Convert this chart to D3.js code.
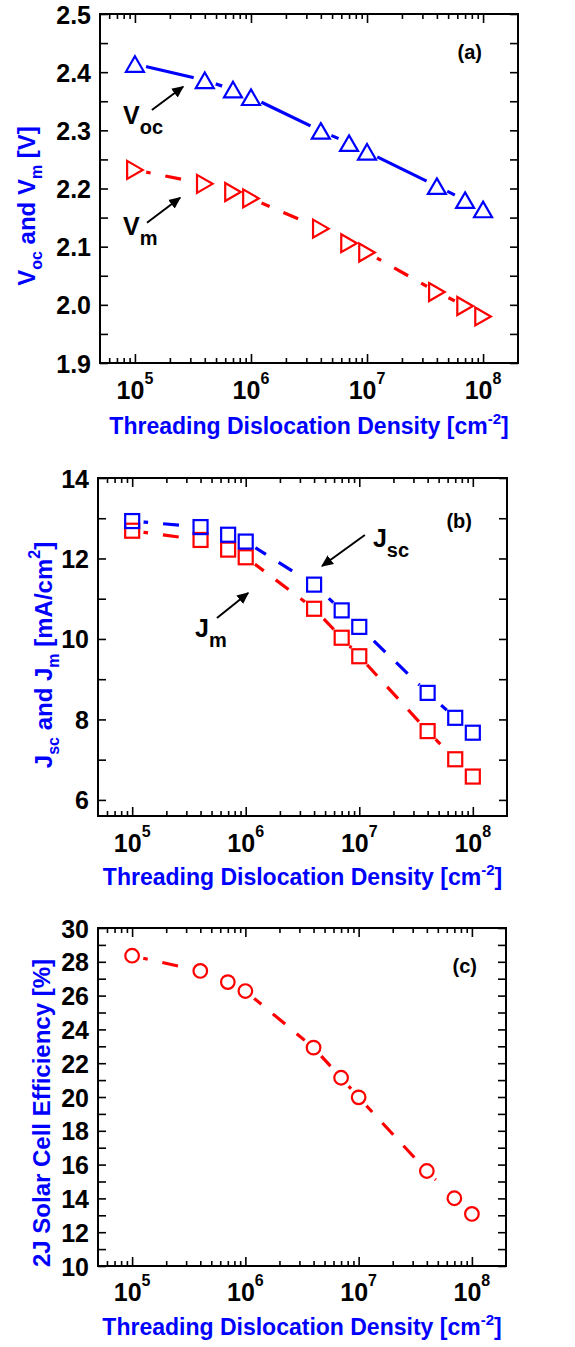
<!DOCTYPE html>
<html>
<head>
<meta charset="utf-8">
<script src="https://cdn.jsdelivr.net/npm/d3@7"></script>
<style>
  body { margin: 0; background: #fff; }
  text { font-family: "Liberation Sans", Arial, sans-serif; font-weight: bold; }
</style>
</head>
<body>
<div id="chart"></div>
<script>
// threading dislocation density (cm^-2)
var tdd = [1e5, 4e5, 7e5, 1e6, 4e6, 7e6, 1e7, 4e7, 7e7, 1e8];

// panel (a) voltages [V]
var voc = [2.414, 2.386, 2.370, 2.357, 2.299, 2.278, 2.263, 2.204, 2.180, 2.164];
var vm  = [2.232, 2.208, 2.194, 2.183, 2.131, 2.106, 2.090, 2.022, 1.998, 1.980];

// panel (b) currents [mA/cm2]
var jsc = [12.93, 12.78, 12.59, 12.42, 11.35, 10.71, 10.30, 8.66, 8.04, 7.67];
var jm  = [12.69, 12.46, 12.22, 12.03, 10.75, 10.03, 9.57, 7.71, 7.01, 6.58];

// panel (c) efficiency [%]
var eff = [28.36, 27.46, 26.80, 26.27, 22.92, 21.14, 19.98, 15.62, 14.01, 13.08];

var xDecades = [1e5, 1e6, 1e7, 1e8];
var yTicksA = d3.range(1.9, 2.5001, 0.05), yLabelsA = [1.9, 2.0, 2.1, 2.2, 2.3, 2.4, 2.5];
var yTicksB = d3.range(6, 14.001, 1),      yLabelsB = [6, 8, 10, 12, 14];
var yTicksC = d3.range(10, 30.001, 1),     yLabelsC = [10, 12, 14, 16, 18, 20, 22, 24, 26, 28, 30];

var BLUE = "#0000ff", RED = "#ff0000";

var svg = d3.select("#chart").append("svg")
    .attr("width", 575)
    .attr("height", 1347);

var defs = svg.append("defs");
defs.append("marker")
    .attr("id", "arrowhead")
    .attr("viewBox", "0 0 10 10")
    .attr("refX", 9).attr("refY", 5)
    .attr("markerWidth", 6).attr("markerHeight", 6)
    .attr("markerUnits", "strokeWidth")
    .attr("orient", "auto")
    .append("path")
    .attr("d", "M0,0.5 L10,5 L0,9.5 Z")
    .attr("fill", "#000");

// marker shapes
var shapes = {
    up: function(g, c) {
        g.append("path").attr("d", "M0,-7.8 L9,7.8 L-9,7.8 Z")
            .attr("fill", "none").attr("stroke", c).attr("stroke-width", 2.2);
    },
    right: function(g, c) {
        g.append("path").attr("d", "M-7.8,-9 L7.8,0 L-7.8,9 Z")
            .attr("fill", "none").attr("stroke", c).attr("stroke-width", 2.2);
    },
    square: function(g, c) {
        g.append("rect").attr("x", -7).attr("y", -7).attr("width", 14).attr("height", 14)
            .attr("fill", "none").attr("stroke", c).attr("stroke-width", 2.2);
    },
    circle: function(g, c) {
        g.append("circle").attr("r", 6.8)
            .attr("fill", "none").attr("stroke", c).attr("stroke-width", 2.2);
    }
};

var maskCount = 0;

function drawPanel(p) {
    var w = p.right - p.left, h = p.bottom - p.top;
    var g = svg.append("g").attr("transform", "translate(" + p.left + "," + p.top + ")");

    var x = d3.scaleLog().domain([5e4, 2e8]).range([0, w]);
    var y = d3.scaleLinear().domain(p.yDomain).range([h, 0]);

    var minors = [];
    for (var e = 4; e <= 8; e++) {
        for (var k = 2; k <= 9; k++) {
            var v = k * Math.pow(10, e);
            if (v > 5e4 && v < 2e8) minors.push(v);
        }
    }

    // ticks, all pointing inward
    function strip(sel) { sel.select(".domain").remove(); sel.selectAll("line").attr("stroke", "#000").attr("stroke-width", 1.6); }
    g.append("g").attr("transform", "translate(0," + h + ")")
        .call(d3.axisBottom(x).tickValues(xDecades).tickSize(-9).tickFormat("")).call(strip);
    g.append("g").attr("transform", "translate(0," + h + ")")
        .call(d3.axisBottom(x).tickValues(minors).tickSize(-5).tickFormat("")).call(strip);
    g.append("g")
        .call(d3.axisTop(x).tickValues(xDecades).tickSize(-9).tickFormat("")).call(strip);
    g.append("g")
        .call(d3.axisTop(x).tickValues(minors).tickSize(-5).tickFormat("")).call(strip);
    g.append("g")
        .call(d3.axisLeft(y).tickValues(p.yTicks).tickSize(-8).tickFormat("")).call(strip);
    g.append("g").attr("transform", "translate(" + w + ",0)")
        .call(d3.axisRight(y).tickValues(p.yTicks).tickSize(-8).tickFormat("")).call(strip);

    // y tick labels
    var yl = g.append("g")
        .call(d3.axisLeft(y).tickValues(p.yLabels).tickSize(0).tickPadding(9).tickFormat(p.yFormat));
    yl.select(".domain").remove();
    yl.selectAll("text")
        .attr("font-size", 25)
        .attr("font-family", "'Liberation Sans', Arial, sans-serif")
        .attr("font-weight", "bold")
        .attr("fill", "#000")
        .attr("dy", "0.36em");

    // x tick labels 10^n
    xDecades.forEach(function(d) {
        var t = g.append("text")
            .attr("x", x(d))
            .attr("y", h + p.xLabelDy)
            .attr("text-anchor", "middle")
            .attr("font-size", 25)
            .attr("fill", "#000");
        t.append("tspan").text("10");
        t.append("tspan").attr("font-size", 16).attr("dy", -15).text(Math.round(Math.log10(d)));
    });

    // frame
    g.append("rect")
        .attr("width", w).attr("height", h)
        .attr("fill", "none").attr("stroke", "#000").attr("stroke-width", 2);

    // series
    p.series.forEach(function(s) {
        var pts = tdd.map(function(d, i) { return [x(d), y(s.values[i])]; });
        var id = "gapmask" + (maskCount++);
        var m = defs.append("mask").attr("id", id).attr("maskUnits", "userSpaceOnUse")
            .attr("x", 0).attr("y", 0).attr("width", 575).attr("height", 1347);
        m.append("rect").attr("x", -200).attr("y", -1500).attr("width", 1200).attr("height", 3000).attr("fill", "#fff");
        m.selectAll("circle").data(pts).enter().append("circle")
            .attr("cx", function(d) { return d[0]; })
            .attr("cy", function(d) { return d[1]; })
            .attr("r", 11.5)
            .attr("fill", "#000");

        g.append("path")
            .datum(pts)
            .attr("d", d3.line())
            .attr("fill", "none")
            .attr("stroke", s.color)
            .attr("stroke-width", 3.2)
            .attr("stroke-dasharray", s.dashed ? "16,15" : null)
            .attr("mask", "url(#" + id + ")");

        pts.forEach(function(d) {
            var mg = g.append("g").attr("transform", "translate(" + d[0] + "," + d[1] + ")");
            shapes[s.shape](mg, s.color);
        });
    });

    // annotations (positions in data coordinates)
    (p.notes || []).forEach(function(n) {
        g.append("line")
            .attr("x1", x(n.tail[0])).attr("y1", y(n.tail[1]))
            .attr("x2", x(n.tip[0])).attr("y2", y(n.tip[1]))
            .attr("stroke", "#000").attr("stroke-width", 2)
            .attr("marker-end", "url(#arrowhead)");
        var t = g.append("text")
            .attr("x", x(n.at[0])).attr("y", y(n.at[1]))
            .attr("font-size", 25).attr("fill", "#000");
        t.append("tspan").text(n.main);
        t.append("tspan").attr("font-size", 20).attr("dy", 10).text(n.sub);
    });

    // panel letter
    g.append("text")
        .attr("x", w - p.letterDx).attr("y", p.letterDy)
        .attr("text-anchor", "end")
        .attr("font-size", 20)
        .attr("fill", "#000")
        .text(p.letter);

    // x title
    var xt = g.append("text")
        .attr("x", w / 2).attr("y", h + p.xTitleDy)
        .attr("text-anchor", "middle")
        .attr("font-size", 23)
        .attr("fill", BLUE);
    xt.append("tspan").text("Threading Dislocation Density [cm");
    xt.append("tspan").attr("font-size", 15).attr("dy", -10).text("-2");
    xt.append("tspan").attr("dy", 10).text("]");

    // y title
    var yt = svg.append("text")
        .attr("transform", "translate(" + p.yTitleX + "," + p.yTitleY + ") rotate(-90)")
        .attr("text-anchor", "middle")
        .attr("font-size", 24)
        .attr("fill", BLUE);
    p.yTitle(yt);
}

drawPanel({
    left: 100, right: 518, top: 14, bottom: 363,
    yDomain: [1.9, 2.5], yTicks: yTicksA, yLabels: yLabelsA, yFormat: d3.format(".1f"),
    xLabelDy: 36, xTitleDy: 71,
    letter: "(a)", letterDx: 36, letterDy: 45,
    series: [
        { values: voc, color: BLUE, shape: "up", dashed: false },
        { values: vm, color: RED, shape: "right", dashed: true }
    ],
    notes: [
        { main: "V", sub: "oc", at: [7.9e4, 2.311], tail: [1.4e5, 2.335], tip: [2.6e5, 2.375] },
        { main: "V", sub: "m", at: [7.9e4, 2.120], tail: [1.27e5, 2.141], tip: [2.45e5, 2.184] }
    ],
    yTitleX: 35, yTitleY: 206,
    yTitle: function(t) {
        t.append("tspan").text("V");
        t.append("tspan").attr("font-size", 16).attr("dy", 7).text("oc");
        t.append("tspan").attr("dy", -7).text(" and V");
        t.append("tspan").attr("font-size", 16).attr("dy", 7).text("m");
        t.append("tspan").attr("dy", -7).text(" [V]");
    }
});

drawPanel({
    left: 98, right: 507, top: 478, bottom: 816,
    yDomain: [5.6, 14], yTicks: yTicksB, yLabels: yLabelsB, yFormat: d3.format("d"),
    xLabelDy: 36, xTitleDy: 69,
    letter: "(b)", letterDx: 35, letterDy: 50,
    series: [
        { values: jm, color: RED, shape: "square", dashed: true },
        { values: jsc, color: BLUE, shape: "square", dashed: true }
    ],
    notes: [
        { main: "J", sub: "sc", at: [1.32e7, 12.285], tail: [1.12e7, 12.584], tip: [4.7e6, 11.813] },
        { main: "J", sub: "m", at: [3.58e5, 10.049], tail: [5.58e5, 10.521], tip: [1.05e6, 11.142] }
    ],
    yTitleX: 52, yTitleY: 655,
    yTitle: function(t) {
        t.append("tspan").text("J");
        t.append("tspan").attr("font-size", 16).attr("dy", 7).text("sc");
        t.append("tspan").attr("dy", -7).text(" and J");
        t.append("tspan").attr("font-size", 16).attr("dy", 7).text("m");
        t.append("tspan").attr("dy", -7).text(" [mA/cm");
        t.append("tspan").attr("font-size", 16).attr("dy", -12).text("2");
        t.append("tspan").attr("dy", 12).text("]");
    }
});

drawPanel({
    left: 98, right: 506, top: 928, bottom: 1266,
    yDomain: [10, 30], yTicks: yTicksC, yLabels: yLabelsC, yFormat: d3.format("d"),
    xLabelDy: 35, xTitleDy: 69,
    letter: "(c)", letterDx: 29, letterDy: 45,
    series: [
        { values: eff, color: RED, shape: "circle", dashed: true }
    ],
    notes: [],
    yTitleX: 50, yTitleY: 1113,
    yTitle: function(t) {
        t.text("2J Solar Cell Efficiency [%]");
    }
});
</script>
</body>
</html>
